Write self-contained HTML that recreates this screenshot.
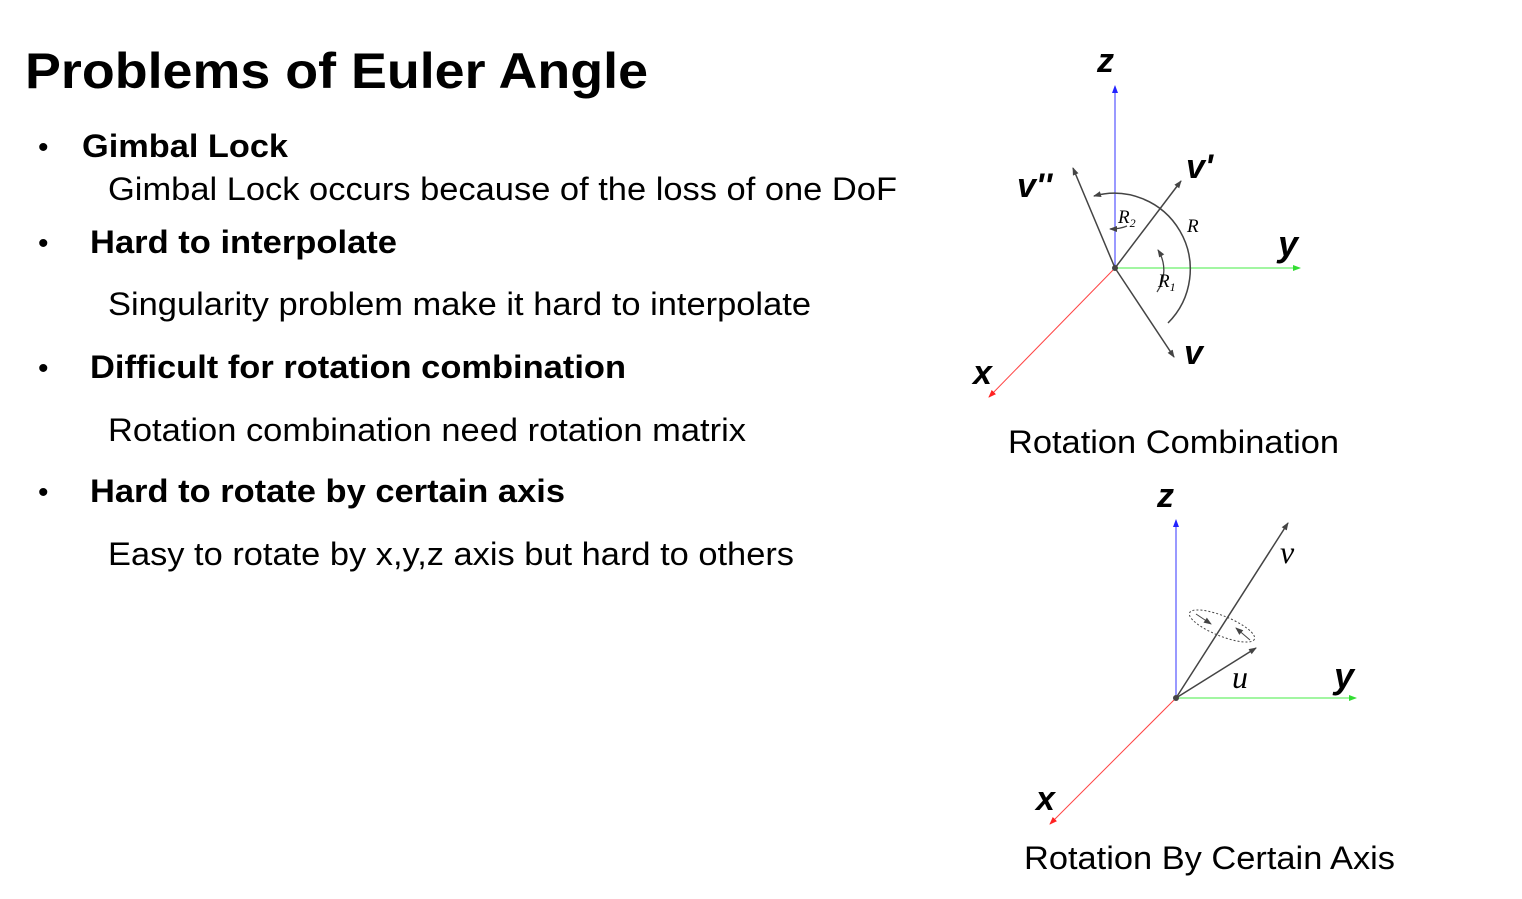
<!DOCTYPE html>
<html><head><meta charset="utf-8"><style>
html,body{margin:0;padding:0;background:#fff;}
svg{display:block}
text{font-family:"Liberation Sans",Arial,sans-serif;fill:#000}
text.s{font-family:"Liberation Serif",serif}
</style></head><body>
<svg width="1522" height="899" viewBox="0 0 1522 899" xmlns="http://www.w3.org/2000/svg">
<defs>
<marker id="ag" markerWidth="8" markerHeight="8" refX="7" refY="4" orient="auto" markerUnits="userSpaceOnUse"><path d="M0,1 L8,4 L0,7 z" fill="#444"/></marker>
<marker id="ab" markerWidth="8" markerHeight="8" refX="7" refY="4" orient="auto" markerUnits="userSpaceOnUse"><path d="M0,1 L8,4 L0,7 z" fill="#22f"/></marker>
<marker id="ar" markerWidth="8" markerHeight="8" refX="7" refY="4" orient="auto" markerUnits="userSpaceOnUse"><path d="M0,1 L8,4 L0,7 z" fill="#f22"/></marker>
<marker id="agr" markerWidth="8" markerHeight="8" refX="7" refY="4" orient="auto" markerUnits="userSpaceOnUse"><path d="M0,1 L8,4 L0,7 z" fill="#3d3"/></marker>
</defs>
<text x="25" y="88" font-size="50" font-weight="bold" textLength="623" lengthAdjust="spacingAndGlyphs">Problems of Euler Angle</text>

<text x="38" y="157" font-size="30">•</text>
<text x="82" y="157" font-size="32" font-weight="bold" textLength="206" lengthAdjust="spacingAndGlyphs">Gimbal Lock</text>
<text x="108" y="200" font-size="32" textLength="789" lengthAdjust="spacingAndGlyphs">Gimbal Lock occurs because of the loss of one DoF</text>

<text x="38" y="253" font-size="30">•</text>
<text x="90" y="253" font-size="32" font-weight="bold" textLength="307" lengthAdjust="spacingAndGlyphs">Hard to interpolate</text>
<text x="108" y="315" font-size="32" textLength="703" lengthAdjust="spacingAndGlyphs">Singularity problem make it hard to interpolate</text>

<text x="38" y="378" font-size="30">•</text>
<text x="90" y="378" font-size="32" font-weight="bold" textLength="536" lengthAdjust="spacingAndGlyphs">Difficult for rotation combination</text>
<text x="108" y="441" font-size="32" textLength="638" lengthAdjust="spacingAndGlyphs">Rotation combination need rotation matrix</text>

<text x="38" y="502" font-size="30">•</text>
<text x="90" y="502" font-size="32" font-weight="bold" textLength="475" lengthAdjust="spacingAndGlyphs">Hard to rotate by certain axis</text>
<text x="108" y="565" font-size="32" textLength="686" lengthAdjust="spacingAndGlyphs">Easy to rotate by x,y,z axis but hard to others</text>

<g>
<line x1="1115" y1="268" x2="1115" y2="86" stroke="#33f" stroke-width="1" marker-end="url(#ab)"/>
<line x1="1115" y1="268" x2="1300" y2="268" stroke="#4e4" stroke-width="1" marker-end="url(#agr)"/>
<line x1="1115" y1="268" x2="989" y2="397" stroke="#f44" stroke-width="1" marker-end="url(#ar)"/>
<line x1="1115" y1="268" x2="1174" y2="357" stroke="#444" stroke-width="1.5" marker-end="url(#ag)"/>
<line x1="1115" y1="268" x2="1181" y2="181" stroke="#444" stroke-width="1.5" marker-end="url(#ag)"/>
<line x1="1115" y1="268" x2="1073" y2="168" stroke="#444" stroke-width="1.5" marker-end="url(#ag)"/>
<path d="M1168,323 A76,76 0 0 0 1094,196" fill="none" stroke="#444" stroke-width="1.5" marker-end="url(#ag)"/>
<path d="M1157,292 A38,38 0 0 0 1158,250" fill="none" stroke="#444" stroke-width="1.3" marker-end="url(#ag)"/>
<path d="M1127,226 Q1120,229 1110,229" fill="none" stroke="#444" stroke-width="1.3" marker-end="url(#ag)"/>
<circle cx="1115" cy="268" r="3" fill="#444"/>
<text x="1097" y="72" font-size="34" font-weight="bold" font-style="italic">z</text>
<text x="1278" y="256" font-size="36" font-weight="bold" font-style="italic">y</text>
<text x="973" y="384" font-size="34" font-weight="bold" font-style="italic">x</text>
<text x="1184" y="364" font-size="34" font-weight="bold" font-style="italic">v</text>
<text x="1186" y="178" font-size="34" font-weight="bold" font-style="italic">v'</text>
<text x="1017" y="197" font-size="34" font-weight="bold" font-style="italic">v''</text>
<text class="s" x="1187" y="232" font-size="19" font-style="italic">R</text>
<text class="s" x="1118" y="223" font-size="19" font-style="italic">R<tspan font-size="12" dy="4">2</tspan></text>
<text class="s" x="1158" y="287" font-size="19" font-style="italic">R<tspan font-size="12" dy="4">1</tspan></text>
<text x="1008" y="453" font-size="32" textLength="331" lengthAdjust="spacingAndGlyphs">Rotation Combination</text>
</g>

<g>
<line x1="1176" y1="698" x2="1176" y2="520" stroke="#33f" stroke-width="1" marker-end="url(#ab)"/>
<line x1="1176" y1="698" x2="1356" y2="698" stroke="#4e4" stroke-width="1" marker-end="url(#agr)"/>
<line x1="1176" y1="698" x2="1050" y2="824" stroke="#f44" stroke-width="1" marker-end="url(#ar)"/>
<line x1="1176" y1="698" x2="1288" y2="523" stroke="#444" stroke-width="1.5" marker-end="url(#ag)"/>
<line x1="1176" y1="698" x2="1256" y2="648" stroke="#444" stroke-width="1.5" marker-end="url(#ag)"/>
<ellipse cx="1222" cy="626" rx="35" ry="10" transform="rotate(22 1222 626)" fill="none" stroke="#444" stroke-width="1" stroke-dasharray="2,2"/>
<line x1="1196" y1="614" x2="1211" y2="624" stroke="#444" stroke-width="1" marker-end="url(#ag)"/>
<line x1="1250" y1="640" x2="1236" y2="628" stroke="#444" stroke-width="1" marker-end="url(#ag)"/>
<circle cx="1176" cy="698" r="3" fill="#444"/>
<text x="1157" y="507" font-size="34" font-weight="bold" font-style="italic">z</text>
<text x="1334" y="688" font-size="36" font-weight="bold" font-style="italic">y</text>
<text x="1036" y="810" font-size="34" font-weight="bold" font-style="italic">x</text>
<text class="s" x="1280" y="563" font-size="32" font-style="italic">v</text>
<text class="s" x="1232" y="688" font-size="32" font-style="italic">u</text>
<text x="1024" y="869" font-size="32" textLength="371" lengthAdjust="spacingAndGlyphs">Rotation By Certain Axis</text>
</g>
</svg>
</body></html>
